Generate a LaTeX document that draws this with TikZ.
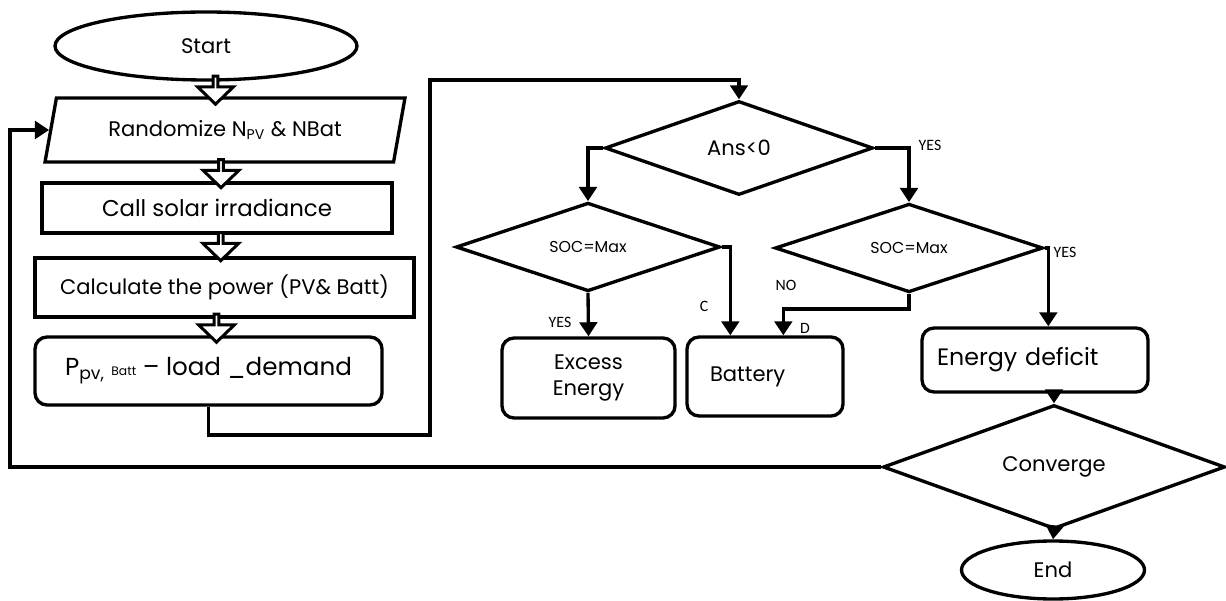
\documentclass[tikz,border=0pt]{standalone}
\usepackage{fontspec}
\setmainfont{Poppins}
\newfontfamily\lblfont{Carlito}
\usetikzlibrary{shapes,shapes.geometric,shapes.arrows,arrows.meta,positioning,calc}
\tikzset{
  term/.style={ellipse,draw,line width=1.9pt,inner sep=0pt,font=\fontsize{12}{14}\selectfont},
  io/.style={trapezium,trapezium left angle=75,trapezium right angle=105,trapezium stretches=true,draw,line width=1.9pt,minimum width=7.2cm,minimum height=1.28cm,font=\fontsize{12}{14}\selectfont},
  proc/.style={rectangle,draw,line width=1.9pt,align=center,font=\fontsize{12}{14}\selectfont},
  rproc/.style={proc,rounded corners=0.24cm},
  dec/.style={diamond,draw,line width=1.9pt,inner sep=0pt,font=\fontsize{12}{14}\selectfont},
  harr/.style={single arrow,draw,fill=white,rotate=-90,line width=1.7pt,inner sep=0pt,minimum width=0.72cm,minimum height=0.56cm,single arrow head extend=0.19cm,single arrow tip angle=92},
  arr/.style={-{Triangle[length=8pt,width=10pt]},line width=1.9pt},
  lbl/.style={font=\lblfont\fontsize{9}{10}\selectfont,inner sep=1pt},
}
\begin{document}
\begin{tikzpicture}
  \useasboundingbox (0,0) rectangle (24.52,-12.02);
  % left column
  \node[term,minimum width=6.04cm,minimum height=1.36cm] (start) at (4.12,-0.92) {Start};
  \node[io] (rand) at (4.5,-2.6) {Randomize N\textsubscript{PV} \& NBat};
  \node[proc,minimum width=7.0cm,minimum height=1.0cm,font=\fontsize{13}{15}\selectfont] (solar) at (4.34,-4.16) {Call solar irradiance};
  \node[proc,minimum width=7.58cm,minimum height=1.18cm] (calc) at (4.49,-5.75) {Calculate the power (PV\& Batt)};
  \node[rproc,minimum width=6.94cm,minimum height=1.36cm,font=\fontsize{14}{16}\selectfont] (pload) at (4.17,-7.42)
    {P\textsubscript{pv,} {\fontsize{7}{8}\selectfont Batt} -- load \_demand};
  \node[harr] (h1) at ($(start.south)!0.5!(rand.north)$) {};
  \node[harr] (h2) at ($(rand.south)!0.5!(solar.north)$) {};
  \node[harr] (h3) at ($(solar.south)!0.5!(calc.north)$) {};
  \node[harr] (h4) at ($(calc.south)!0.5!(pload.north)$) {};
  % decisions
  \node[dec,minimum width=5.36cm,minimum height=1.88cm] (ans) at (14.78,-2.96) {Ans<0};
  \node[dec,minimum width=5.28cm,minimum height=1.68cm,font=\fontsize{9}{10}\selectfont] (soc1) at (11.76,-4.94) {SOC=Max};
  \node[dec,minimum width=5.36cm,minimum height=1.72cm,font=\fontsize{9}{10}\selectfont] (soc2) at (18.18,-4.96) {SOC=Max};
  \node[rproc,minimum width=3.46cm,minimum height=1.6cm,font=\fontsize{12}{15}\selectfont] (excess) at (11.77,-7.56) {Excess\\Energy};
  \node[rproc,minimum width=3.12cm,minimum height=1.58cm,text width=2.2cm,align=left] (batt) at (15.3,-7.53) {Battery};
  \node[rproc,minimum width=4.52cm,minimum height=1.28cm,text width=3.92cm,align=left,font=\fontsize{13.5}{15}\selectfont] (deficit) at (20.7,-7.2) {Energy deficit};
  \node[dec,minimum width=6.84cm,minimum height=1.82cm] (conv) at (21.08,-9.34) {Converge};
  \node[term,minimum width=3.66cm,minimum height=1.16cm] (end) at (21.06,-11.4) {End};
  % connectors
  \coordinate (loopr) at (8.6,-8.7);
  \coordinate (looptop) at (8.6,-1.6);
  \coordinate (fbk) at (0.2,-5);
  \draw[arr] (pload.south) |- (loopr) -- (looptop) -| (ans.north);
  \draw[arr] (ans.west) -| (soc1.north);
  \draw[arr] (ans.east) -| (soc2.north);
  \draw[arr] (soc1.south) -- (excess.north);
  \draw[arr] (soc1.east) -| ([xshift=0.9cm]batt.north west);
  \draw[arr] (soc2.south) -- ++(0,-0.3) -| ([xshift=1.96cm]batt.north west);
  \draw[arr] (soc2.east) -| ([xshift=2.56cm]deficit.north west);
  \draw[arr] (conv.north |- deficit.south) -- (conv.north);
  \draw[arr] (conv.south) -- (end.north);
  \draw[arr] (conv.west) -| (fbk) |- (rand.west);
  % labels
  \node[lbl] (lyes1) at (18.6,-2.9) {YES};
  \node[lbl] (lyes2) at (11.2,-6.44) {YES};
  \node[lbl] (lc) at (14.08,-6.12) {C};
  \node[lbl] (lno) at (15.72,-5.7) {NO};
  \node[lbl] (ld) at (16.1,-6.56) {D};
  \node[lbl] (lyes3) at (21.3,-5.04) {YES};
\end{tikzpicture}
\end{document}
